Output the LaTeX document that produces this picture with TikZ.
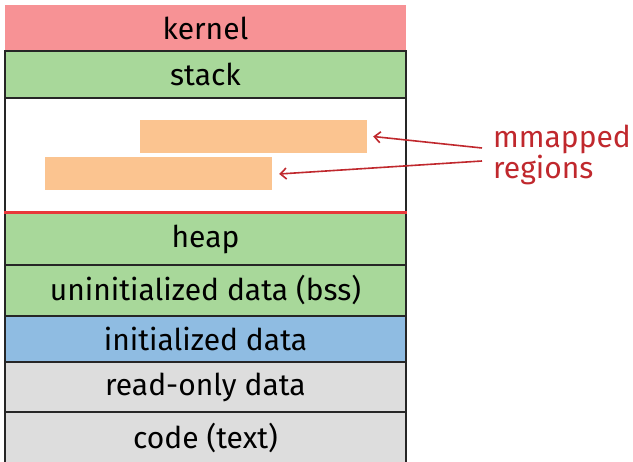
\documentclass[tikz,border=0pt]{standalone}
\usepackage{fontspec}
\setmainfont{Fira Sans}
\usetikzlibrary{positioning,arrows.meta}

\definecolor{kernelc}{HTML}{F79295}
\definecolor{greenc}{HTML}{A8D89A}
\definecolor{bluec}{HTML}{8FBCE2}
\definecolor{grayc}{HTML}{DDDDDD}
\definecolor{mmapc}{HTML}{FBC490}
\definecolor{redc}{HTML}{C0282D}
\definecolor{linec}{HTML}{E8383A}

\tikzset{
  seg/.style={draw=black!85, line width=1.3pt, minimum width=401pt, inner sep=0pt,
    font=\fontsize{30}{32}\selectfont},
  mmap/.style={fill=mmapc, draw=none, minimum width=227pt, minimum height=33pt, inner sep=0pt},
  lbl/.style={text=redc, inner sep=0pt, anchor=base west, font=\fontsize{30}{32}\selectfont},
  pointer/.style={redc, line width=1.6pt, -{Straight Barb[length=6pt,width=11pt]}},
}

\begin{document}
\begin{tikzpicture}[x=1pt,y=-1pt]
  \useasboundingbox (0,0) rectangle (633,462);
  % memory layout
  \node[seg, fill=kernelc, draw=none, minimum height=46pt] (Kernel) at (205.5,28) {kernel};
  \node[seg, fill=greenc, minimum height=47pt] (Stack) at (205.5,74.5) {stack};
  \node[seg, fill=white, minimum height=114pt] (Free) at (205.5,155) {};
  \node[seg, fill=greenc, minimum height=52pt] (Heap) at (205.5,239) {heap};
  \node[seg, fill=greenc, minimum height=51pt] (Bss) at (205.5,290.5) {uninitialized data (bss)};
  \node[seg, fill=bluec, minimum height=46pt] (Init) at (205.5,339) {initialized data};
  \node[seg, fill=grayc, minimum height=50pt] (Rodata) at (205.5,387) {read-only data};
  \node[seg, fill=grayc, minimum height=52pt] (Code) at (205.5,438) {code (text)};
  \draw[linec, line width=3.5pt] (Free.south west) -- (Free.south east);

  % mmapped regions
  \node[mmap] (MapA) at (253.5,136.5) {};
  \node[mmap] (MapB) at (158.5,174) {};
  \node[lbl] (LabelA) at (493,148) {mmapped};
  \node[lbl] (LabelB) at (493,179) {regions};
  \coordinate (FromA) at (482,148);
  \coordinate (FromB) at (482,161);
  \draw[pointer] (FromA) -- ([xshift=6pt]MapA.east);
  \draw[pointer] (FromB) -- ([xshift=7pt]MapB.east);
\end{tikzpicture}
\end{document}
